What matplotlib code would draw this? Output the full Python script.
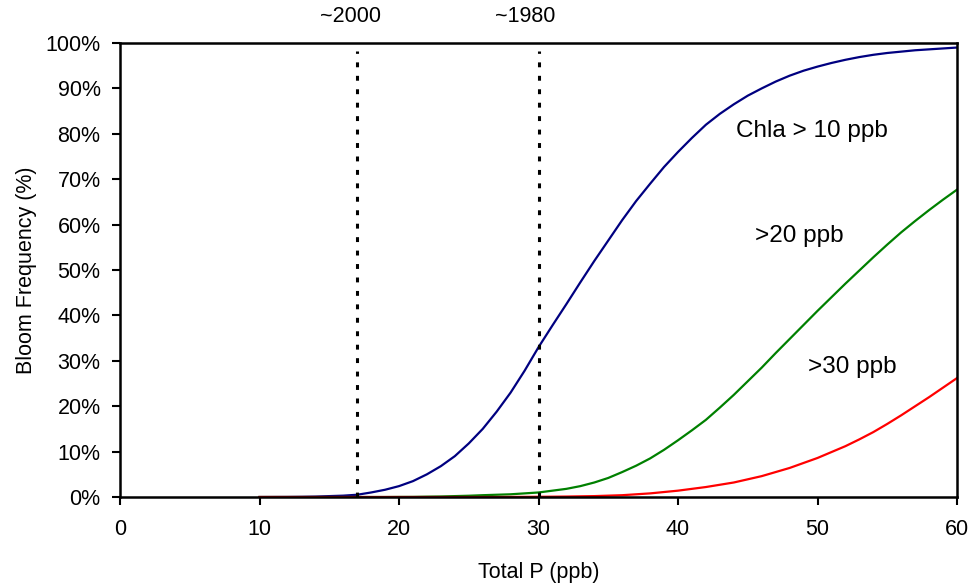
import matplotlib.pyplot as plt
from matplotlib.ticker import PercentFormatter

plt.rcParams['font.family'] = ['Liberation Sans', 'DejaVu Sans']

# Total P (ppb)
tp = list(range(10, 61))

# bloom frequency (%) per chlorophyll threshold
chla10 = [0, 0.01, 0.02, 0.05, 0.1, 0.2, 0.3, 0.5, 1.0, 1.6,
          2.4, 3.5, 5.0, 6.8, 9.0, 11.8, 15.0, 18.8, 23.0, 27.8,
          33.0, 37.8, 42.5, 47.3, 52.0, 56.5, 61.0, 65.2, 69.0, 72.7,
          76.0, 79.1, 82.0, 84.4, 86.5, 88.4, 90.0, 91.5, 92.8, 93.9,
          94.8, 95.6, 96.3, 96.9, 97.4, 97.8, 98.1, 98.4, 98.6, 98.8,
          99.0]
chla20 = [0, 0, 0, 0, 0, 0, 0, 0, 0, 0,
          0.02, 0.03, 0.08, 0.12, 0.2, 0.28, 0.4, 0.5, 0.6, 0.8,
          1.0, 1.4, 1.8, 2.4, 3.2, 4.2, 5.5, 6.9, 8.5, 10.4,
          12.5, 14.7, 17.0, 19.7, 22.5, 25.5, 28.5, 31.7, 34.8, 37.9,
          41.0, 44.0, 47.0, 49.9, 52.8, 55.6, 58.3, 60.8, 63.2, 65.5,
          67.7]
chla30 = [0, 0, 0, 0, 0, 0, 0, 0, 0, 0,
          0, 0, 0, 0, 0, 0, 0, 0, 0.02, 0.03,
          0.05, 0.07, 0.1, 0.15, 0.2, 0.3, 0.4, 0.6, 0.8, 1.1,
          1.4, 1.8, 2.2, 2.7, 3.2, 3.9, 4.6, 5.5, 6.4, 7.5,
          8.6, 9.9, 11.2, 12.7, 14.3, 16.1, 18.0, 20.0, 22.0, 24.1,
          26.2]

# reference years
ref_tp = [17, 30]
ref_labels = ['~2000', '~1980']

fig = plt.figure(figsize=(9.71, 5.85), dpi=100)
ax = fig.add_axes([0.1236, 0.1504, 0.8620, 0.7761])

ax.plot(tp, chla10, color='#000080', lw=1.6)
ax.plot(tp, chla20, color='#008000', lw=1.6)
ax.plot(tp, chla30, color='#ff0000', lw=1.6)

# dotted markers for the two periods, label a bit left of the line
for x, lab, dx in zip(ref_tp, ref_labels, [-0.45, -0.95]):
    ax.plot([x, x], [0, 98.3], color='black', lw=2.2,
            linestyle=(0, (1.6, 2.8)), solid_capstyle='butt')
    ax.text(x + dx, 103.5, lab, ha='center', va='bottom', fontsize=15.5)

ax.text(49.6, 80.6, 'Chla > 10 ppb', ha='center', va='center', fontsize=17.5)
ax.text(48.7, 57.5, '>20 ppb', ha='center', va='center', fontsize=17.5)
ax.text(52.5, 28.6, '>30 ppb', ha='center', va='center', fontsize=17.5)

ax.set_xlim(0, 60)
ax.set_ylim(0, 100)
ax.set_xticks(range(0, 61, 10))
ax.set_yticks(range(0, 101, 10))
ax.yaxis.set_major_formatter(PercentFormatter(decimals=0))
ax.tick_params(direction='out', length=6, width=1.5, labelsize=15.5)
ax.tick_params(axis='x', pad=10)
ax.tick_params(axis='y', pad=8)
for s in ax.spines.values():
    s.set_linewidth(1.8)

ax.set_xlabel('Total P (ppb)', fontsize=15.5, labelpad=16)
ax.set_ylabel('Bloom Frequency (%)', fontsize=15.5, labelpad=6)

fig.savefig('out.png', dpi=100)
